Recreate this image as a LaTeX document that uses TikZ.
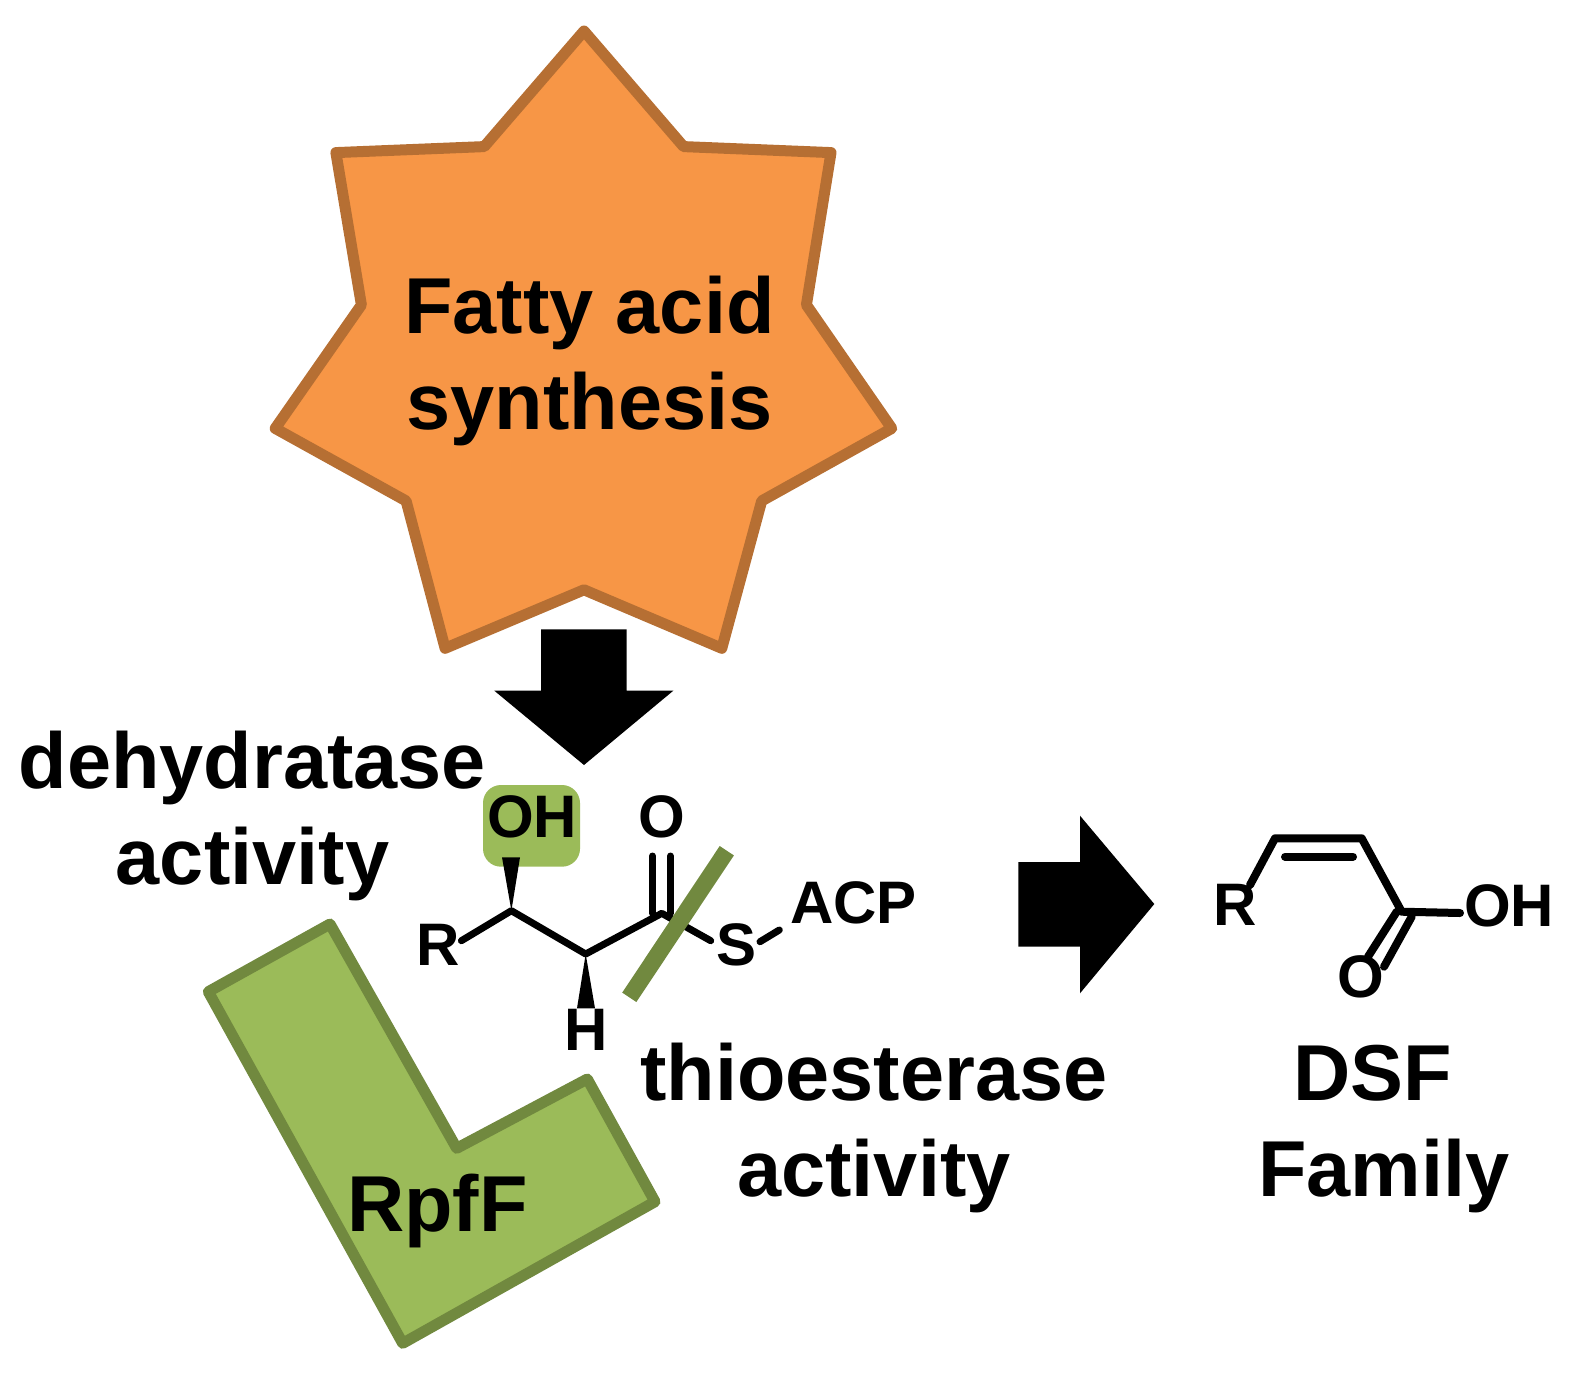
\documentclass[tikz,border=0pt]{standalone}
\usepackage{fontspec}
\setsansfont{Liberation Sans}
\definecolor{starfill}{HTML}{F79646}
\definecolor{stardraw}{HTML}{B66F33}
\definecolor{enzfill}{HTML}{9BBB59}
\definecolor{enzdraw}{HTML}{71893F}
\tikzset{
  every picture/.style={font={\sffamily\bfseries\fontsize{79.3}{96}\selectfont}}}

\begin{document}
\begin{tikzpicture}[
    x=1pt, y=-1pt,
    bigtext/.style={align=center, anchor=base, inner sep=0pt},
    atom/.style={anchor=base, inner sep=0pt, font={\sffamily\bfseries\fontsize{60}{60}\selectfont}},
    bond/.style={line width=7pt, line cap=round, line join=round},
    outline/.style={line width=11pt, line join=round},
    blockarrow/.style={fill=black}]

    \useasboundingbox (0,0) rectangle (1579,1379);

    % star and enzyme
    \draw[outline, fill=starfill, draw=stardraw] (584,31) -- (683.6,146.6) -- (831,152.6)
      -- (806.4,304.9) -- (891.8,428.4) -- (761.7,500.9) -- (721.8,648.3) -- (584,589.8)
      -- (445.1,648.3) -- (406.1,500.9) -- (275.2,428.4) -- (361.4,304.9) -- (335.9,152.6)
      -- (484.2,146.6) -- cycle;
    \draw[outline, fill=enzfill, draw=enzdraw] (208.3,991.7) -- (330,924) -- (456.7,1148.3)
      -- (587.3,1079) -- (655,1201.7) -- (402.7,1343.3) -- cycle;

    \fill[enzfill, rounded corners=18pt] (483,785) rectangle (580,866.7);

    % arrows
    \fill[blockarrow] (541,629.3) -- (626.7,629.3) -- (626.7,690.7) -- (673.3,690.7)
      -- (584,765) -- (494.3,690.7) -- (541,690.7) -- cycle;
    \fill[blockarrow] (1018.3,862) -- (1080,862) -- (1080,815.7) -- (1154.3,904)
      -- (1080,993.3) -- (1080,946.7) -- (1018.3,946.7) -- cycle;

    \node[bigtext] (fatty) at (589.5,429) {Fatty acid\\synthesis};
    \node[bigtext] (dehyd) at (252.5,884) {dehydratase\\activity};
    \node[bigtext] (thio) at (874,1196) {thioesterase\\activity};
    \node[bigtext] (dsf) at (1373,1100) {DSF};
    \node[bigtext] (family) at (1384,1196) {Family};
    \node[bigtext] (rpff) at (437.5,1231) {RpfF};

    % thioester
    \coordinate (C1) at (511.4,910.7);
    \coordinate (C2) at (585.7,954);
    \coordinate (C3) at (661.8,913.3);
    \coordinate (Rend) at (461.4,940.7);
    \coordinate (Send) at (710.7,940.7);
    \coordinate (Sout) at (760,941.7);
    \coordinate (Aend) at (779.3,930);
    \coordinate (Oa) at (652.5,856);
    \coordinate (Ob) at (652.5,913.3);
    \coordinate (Oc) at (670.4,856);
    \coordinate (Od) at (670.4,913.3);
    \coordinate (Cut1) at (726.8,850.7);
    \coordinate (Cut2) at (629.3,997.3);

    \draw[bond] (Rend) -- (C1) -- (C2) -- (C3) -- (Send);
    \draw[bond] (Sout) -- (Aend);
    \draw[bond] (Oa) -- (Ob);
    \draw[bond] (Oc) -- (Od);
    \fill (C1) -- (502,857.3) -- (520,857.3) -- cycle;
    \fill (C2) -- (577,1008.3) -- (595,1008.3) -- cycle;
    \draw[enzdraw, line width=17pt] (Cut1) -- (Cut2);

    \node[atom] (OH1) at (532,837.3) {OH};
    \node[atom] (O1) at (661.8,837.3) {O};
    \node[atom] (R1) at (438,965) {R};
    \node[atom] (S1) at (736.4,965) {S};
    \node[atom] (ACP) at (853.6,923.3) {ACP};
    \node[atom] (H1) at (585.7,1050.7) {H};

    % DSF acid
    \coordinate (D1) at (1250,885);
    \coordinate (D2) at (1275,838.3);
    \coordinate (D3) at (1361.7,838.3);
    \coordinate (D4) at (1401.7,911.7);
    \coordinate (D5) at (1460,913);
    \coordinate (Da) at (1285,856.7);
    \coordinate (Db) at (1353,856.7);
    \coordinate (Dc) at (1396.7,911.7);
    \coordinate (Dd) at (1368,956.7);
    \coordinate (De) at (1411.7,916.7);
    \coordinate (Df) at (1384,966.7);

    \draw[bond, line width=8pt] (D1) -- (D2) -- (D3) -- (D4) -- (D5);
    \draw[bond, line width=8pt] (Da) -- (Db);
    \draw[bond, line width=8pt] (Dc) -- (Dd);
    \draw[bond, line width=8pt] (De) -- (Df);

    \node[atom] (R2) at (1234.7,925) {R};
    \node[atom] (OH2) at (1509.3,926.7) {OH};
    \node[atom] (O2) at (1361.3,997) {O};
\end{tikzpicture}
\end{document}
